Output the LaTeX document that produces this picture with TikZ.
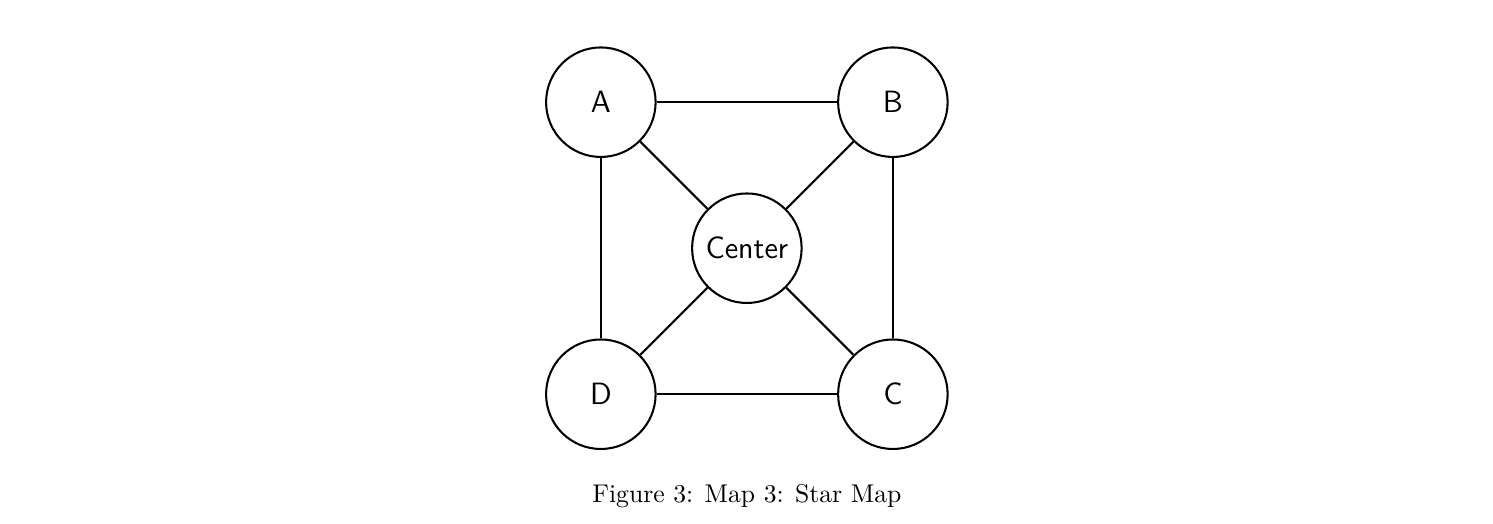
\documentclass[tikz,border=0pt]{standalone}
\usepackage{tikz}
\usetikzlibrary{positioning}

\tikzset{
    city/.style={circle, draw, thick, minimum size=1.5cm, font=\sffamily\large, inner sep=1pt},
    road/.style={thick}
}

\begin{document}
\begin{tikzpicture}
        % Page area
        \useasboundingbox (-10.23,-3.77) rectangle (10.22,3.40);

        % Cities
        \node[city] (center) at (0,0) {Center};
        \node[city] (a) at (-2,2) {A};
        \node[city] (b) at (2,2) {B};
        \node[city] (c) at (2,-2) {C};
        \node[city] (d) at (-2,-2) {D};

        % Outer roads
        \draw[road] (a) -- (b);
        \draw[road] (b) -- (c);
        \draw[road] (c) -- (d);
        \draw[road] (d) -- (a);

        % Roads to the center
        \draw[road] (center) -- (a);
        \draw[road] (center) -- (b);
        \draw[road] (center) -- (c);
        \draw[road] (center) -- (d);

        % Caption
        \node (caption) at (0,-3.40) {Figure 3: Map 3: Star Map};
    \end{tikzpicture}
\end{document}
